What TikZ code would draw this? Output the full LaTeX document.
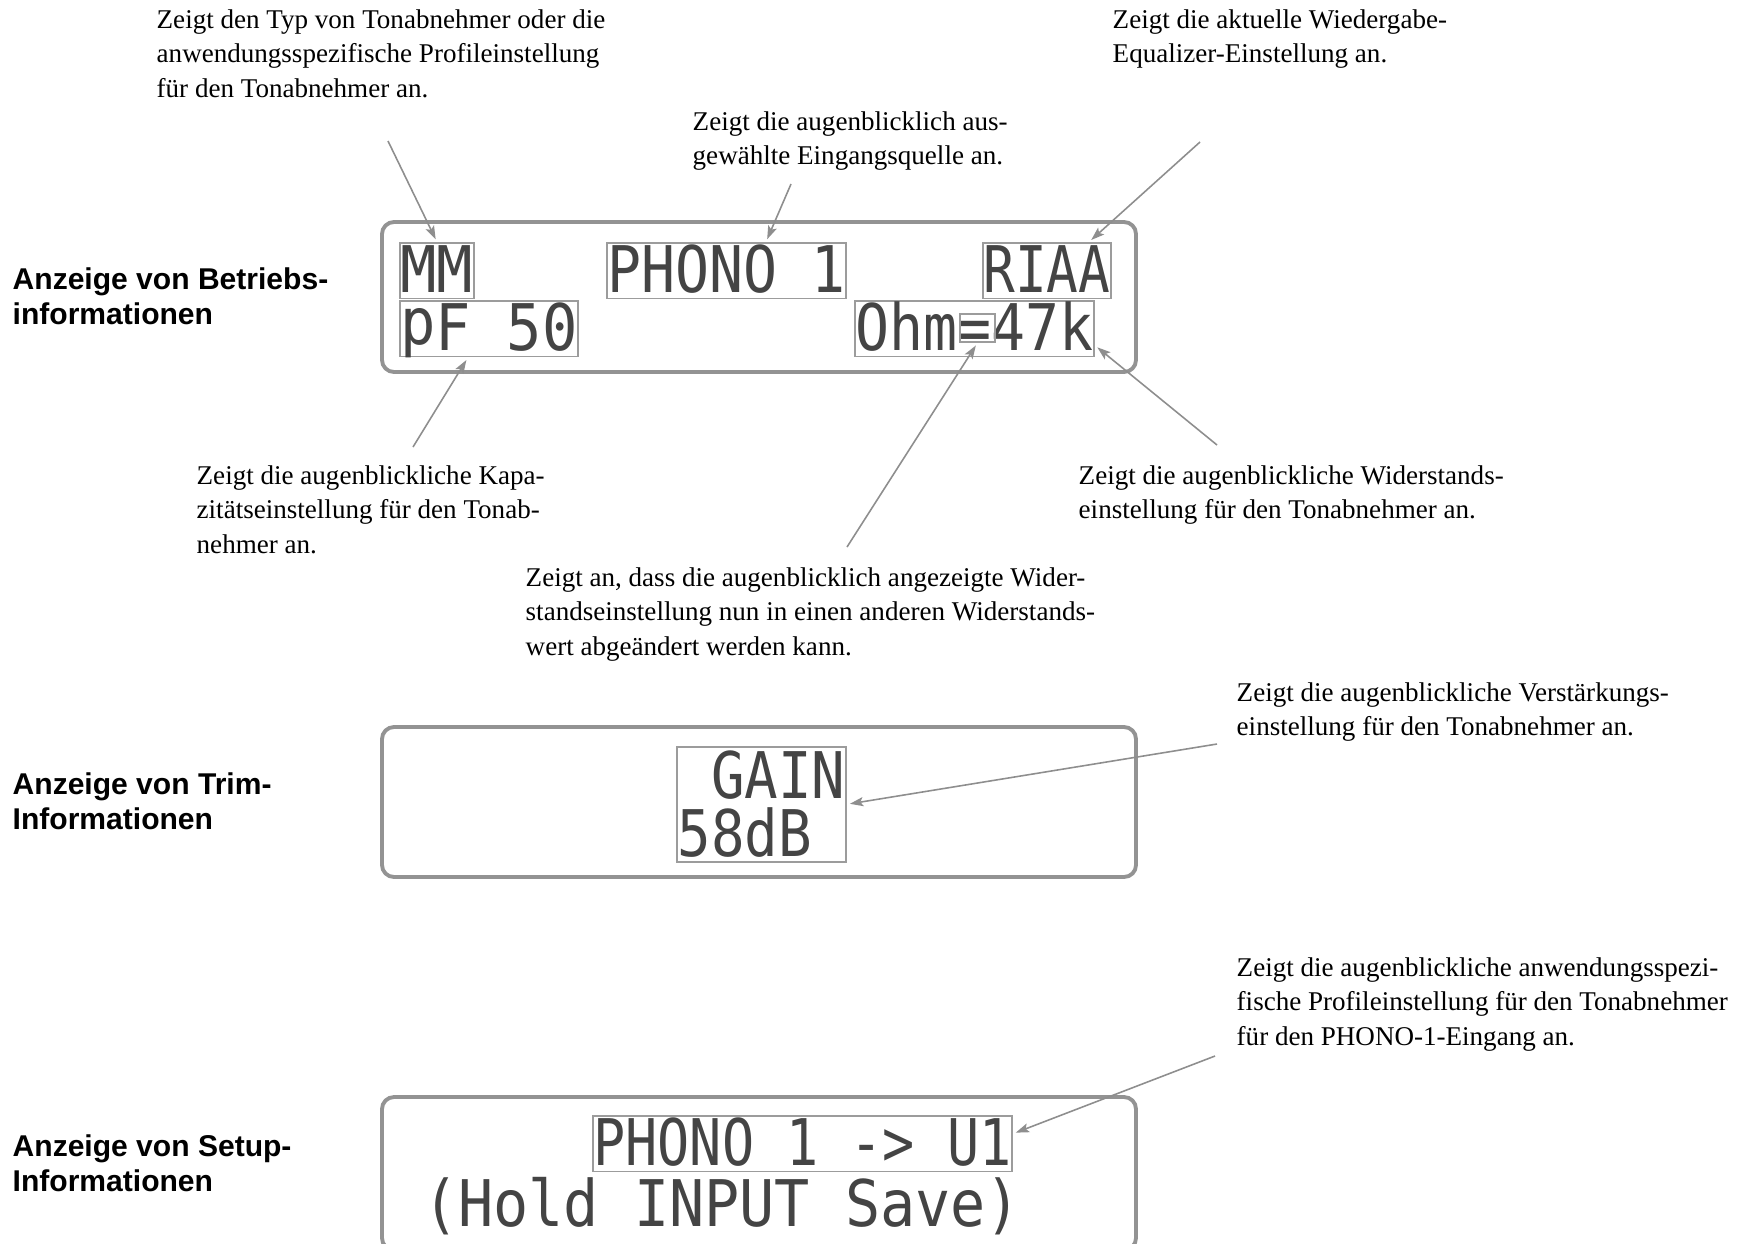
\documentclass[tikz,border=0pt]{standalone}
\usepackage{fontspec}
\setmainfont{Liberation Serif}
\newfontfamily\headfont{Liberation Sans}
\newfontfamily\lcdfont{DejaVu Sans Mono}
\usepackage{graphicx}
\usetikzlibrary{arrows.meta}

\definecolor{framegray}{HTML}{939393}
\definecolor{boxgray}{HTML}{9C9C9C}
\definecolor{arrowgray}{HTML}{8E8E8E}
\definecolor{lcdgray}{HTML}{444444}

\newcommand{\lcdsize}{\lcdfont\fontsize{18.3pt}{16.5pt}\selectfont}
\newcommand{\lcd}[2]{\resizebox{#1}{\height}{#2}}

\tikzset{
  note/.style={anchor=north west, inner sep=0pt, align=left, font=\fontsize{7.7pt}{9.8pt}\selectfont},
  heading/.style={anchor=north west, inner sep=0pt, align=left, font=\headfont\bfseries\fontsize{8.55pt}{10pt}\selectfont},
  display/.style={draw=framegray, line width=1.1pt, rounded corners=1.2mm},
  lcd/.style={anchor=north west, inner xsep=0.05mm, inner ysep=0.25mm, text height=4.75mm, text depth=0.3mm, text=lcdgray, font=\lcdsize},
  lcdbox/.style={lcd, draw=boxgray, line width=0.55pt},
  lcdblock/.style={anchor=north west, draw=boxgray, line width=0.55pt, inner xsep=0.05mm, inner ysep=0.4mm, align=left, text=lcdgray, font=\lcdsize},
  callout/.style={draw=arrowgray, line width=0.45pt, shorten >=0.3mm, -{Stealth[length=3.8pt,width=2.6pt,inset=0.8pt]}}
}

\begin{document}
\begin{tikzpicture}[x=0.1mm, y=-0.1mm]
\useasboundingbox (0,0) rectangle (1743,1243);

% Headings on the left
\node[heading] (h1) at (12,267) {Anzeige von Betriebs-\\informationen};
\node[heading] (h2) at (12,772) {Anzeige von Trim-\\Informationen};
\node[heading] (h3) at (12,1134) {Anzeige von Setup-\\Informationen};

% The three display frames
\draw[display] (382,222) rectangle (1136,372);
\draw[display] (382,727) rectangle (1136,877);
\draw[display] (382,1097) rectangle (1136,1250);

% Display 1: operating information
\node[lcdbox] (mm) at (399,242) {\lcd{7.3mm}{MM}};
\node[lcdbox] (phono) at (606,242) {\lcd{23.8mm}{PHONO 1}};
\node[lcdbox] (riaa) at (982,242) {\lcd{12.7mm}{RIAA}};
\node[lcdbox] (pf) at (399,300) {\lcd{17.7mm}{\raisebox{0.6mm}{p}F 50}};
\node[lcdbox] (ohm) at (854,300) {\lcd{23.8mm}{Ohm=47k}};
\node[draw=boxgray, line width=0.55pt, anchor=north west, inner sep=0pt,
      minimum width=3.5mm, minimum height=2.8mm] (eqbox) at (959,313) {};

% Display 2: trim information
\node[lcdblock] (gain) at (676,746) {\lcd{16.8mm}{\phantom{5}GAIN}\\\lcd{16.8mm}{58dB\phantom{5}}};

% Display 3: setup information
\node[lcdbox] (setup) at (592,1115) {\lcd{41.8mm}{PHONO 1 -> U1}};
\node[lcd] (hold) at (422,1176) {\lcd{59.8mm}{(Hold INPUT Save)}};

% Explanations
\node[note] (t1) at (156,9) {Zeigt den Typ von Tonabnehmer oder die\\anwendungsspezifische Profileinstellung\\für den Tonabnehmer an.};
\node[note] (t2) at (692,111) {Zeigt die augenblicklich aus-\\gewählte Eingangsquelle an.};
\node[note] (t3) at (1112,9) {Zeigt die aktuelle Wiedergabe-\\Equalizer-Einstellung an.};
\node[note] (t4) at (196,465) {Zeigt die augenblickliche Kapa-\\zitätseinstellung für den Tonab-\\nehmer an.};
\node[note] (t5) at (1078,465) {Zeigt die augenblickliche Widerstands-\\einstellung für den Tonabnehmer an.};
\node[note] (t6) at (525,567) {Zeigt an, dass die augenblicklich angezeigte Wider-\\standseinstellung nun in einen anderen Widerstands-\\wert abgeändert werden kann.};
\node[note] (t7) at (1236,682) {Zeigt die augenblickliche Verstärkungs-\\einstellung für den Tonabnehmer an.};
\node[note] (t8) at (1236,957) {Zeigt die augenblickliche anwendungsspezi-\\fische Profileinstellung für den Tonabnehmer\\für den PHONO-1-Eingang an.};

% Free ends of the callouts
\coordinate (s1) at (388,141);
\coordinate (s2) at (791,184);
\coordinate (s3) at (1200,142);
\coordinate (s4) at (413,447);
\coordinate (s5) at (847,547);
\coordinate (s6) at (1217,445);
\coordinate (s7) at (1217,744);
\coordinate (s8) at (1215,1056);

% Callout arrows
\draw[callout] (s1) -- (mm.north);
\draw[callout] (s2) -- ([xshift=3.95mm]phono.north);
\draw[callout] (s3) -- ([xshift=4.2mm]riaa.north);
\draw[callout] (s4) -- ([xshift=-2.1mm]pf.south);
\draw[callout] (s5) -- (eqbox.south);
\draw[callout] (s6) -- ([yshift=1.2mm]ohm.south east);
\draw[callout] (s7) -- (gain.east);
\draw[callout] (s8) -- ([yshift=1mm]setup.east);

\end{tikzpicture}
\end{document}
